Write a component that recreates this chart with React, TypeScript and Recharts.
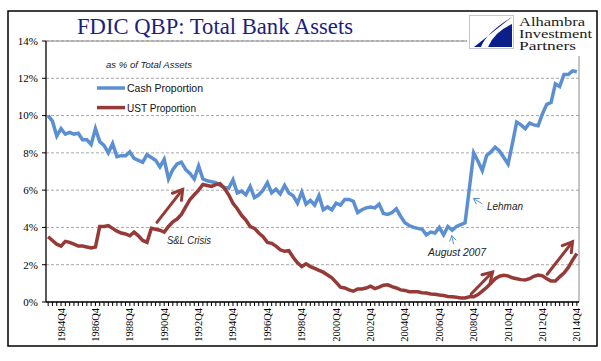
import React from 'react';
import {
  LineChart,
  Line,
  XAxis,
  YAxis,
  CartesianGrid,
  ReferenceLine,
  Legend,
} from 'recharts';

// quarters 1984Q1 .. 2014Q4
const YEARS = Array.from({ length: 31 }, (_, k) => 1984 + k);
const QUARTERS: string[] = YEARS.flatMap((y) => [1, 2, 3, 4].map((q) => `${y}Q${q}`));

const LABELLED = [
  '1984Q4', '1986Q4', '1988Q4', '1990Q4', '1992Q4', '1994Q4', '1996Q4', '1998Q4',
  '2000Q4', '2002Q4', '2004Q4', '2006Q4', '2008Q4', '2010Q4', '2012Q4', '2014Q4',
];

const Y_TICKS = [0, 2, 4, 6, 8, 10, 12, 14];

// Cash as % of total assets
const CASH = [
  10.0, 9.7, 8.9, 9.3, 9.0, 9.1, 9.0, 9.05, 8.7, 8.7, 8.45, 9.3, 8.6, 8.4, 8.0, 8.5,
  7.8, 7.85, 7.85, 8.05, 7.7, 7.6, 7.5, 7.9, 7.75, 7.6, 7.25, 7.65, 6.6, 7.1, 7.4, 7.5,
  7.1, 6.9, 6.6, 7.3, 6.6, 6.5, 6.45, 6.4, 6.25, 6.15, 6.1, 6.55, 5.85, 5.95, 5.75, 6.2,
  5.6, 5.75, 6.0, 6.4, 5.85, 6.05, 5.8, 6.25, 5.85, 5.7, 5.3, 5.9, 5.25, 5.45, 5.2, 5.7,
  4.95, 5.1, 4.95, 5.3, 5.2, 5.5, 5.5, 5.4, 4.8, 4.95, 5.05, 5.1, 5.05, 5.25, 4.75, 4.7,
  4.8, 5.0, 4.6, 4.25, 4.1, 4.0, 3.95, 3.9, 3.6, 3.75, 3.7, 4.0, 3.6, 4.05, 3.85, 4.05,
  4.15, 4.25, 6.1, 8.0, 7.55, 7.05, 7.85, 8.05, 8.3, 8.1, 7.75, 7.4, 8.5, 9.65, 9.5, 9.3,
  9.6, 9.5, 9.45, 10.1, 10.6, 10.7, 11.7, 11.55, 12.2, 12.2, 12.4, 12.35,
];

// UST as % of total assets
const UST = [
  3.5, 3.3, 3.1, 3.0, 3.25, 3.2, 3.1, 3.0, 3.0, 2.95, 2.9, 2.95, 4.05, 4.05, 4.1, 3.95,
  3.8, 3.7, 3.65, 3.55, 3.75, 3.55, 3.3, 3.2, 3.95, 3.9, 3.85, 3.75, 4.05, 4.3, 4.45, 4.7,
  5.1, 5.5, 5.75, 6.0, 6.3, 6.25, 6.2, 6.3, 6.35, 6.1, 5.75, 5.3, 5.0, 4.65, 4.4, 4.05,
  3.95, 3.7, 3.5, 3.2, 3.15, 3.0, 2.8, 2.72, 2.75, 2.4, 2.1, 1.9, 2.05, 1.9, 1.8, 1.7,
  1.6, 1.45, 1.3, 1.05, 0.8, 0.75, 0.65, 0.58, 0.7, 0.7, 0.75, 0.85, 0.72, 0.8, 0.9, 0.92,
  0.82, 0.75, 0.65, 0.62, 0.55, 0.55, 0.55, 0.5, 0.48, 0.43, 0.42, 0.38, 0.35, 0.3, 0.28, 0.25,
  0.22, 0.22, 0.28, 0.28, 0.4, 0.58, 0.78, 1.0, 1.25, 1.38, 1.43, 1.4, 1.3, 1.25, 1.2, 1.18,
  1.25, 1.38, 1.45, 1.4, 1.25, 1.12, 1.12, 1.35, 1.55, 1.85, 2.25, 2.6,
];

const BLUE = '#5b8fd2';
const RED = '#963a37';

// annotation arrows in data space: [quarter index, percent]
const RED_ARROWS = [
  { from: [25.3, 4.27], to: [31.3, 6.04] },
  { from: [98.4, 0.43], to: [103.4, 1.61] },
  { from: [116.1, 1.49], to: [122.0, 3.23] },
];
const NOTE_ARROWS = [
  { from: [100.9, 5.28], to: [98.95, 5.55] },
  { from: [94.3, 3.12], to: [93.9, 3.56] },
];

const data = QUARTERS.map((q, idx) => ({ idx, q, cash: CASH[idx], ust: UST[idx] }));
const ALL_IDX = QUARTERS.map((_, i) => i);

const arrowShape = (color: string, width: number, len: number) => (p: any) => {
  const { x1, y1, x2, y2 } = p;
  const a = Math.atan2(y2 - y1, x2 - x1);
  const w = 0.55;
  const hx1 = x2 - len * Math.cos(a - w);
  const hy1 = y2 - len * Math.sin(a - w);
  const hx2 = x2 - len * Math.cos(a + w);
  const hy2 = y2 - len * Math.sin(a + w);
  return (
    <g>
      <line x1={x1} y1={y1} x2={x2} y2={y2} stroke={color} strokeWidth={width} strokeLinecap="round" />
      <polyline
        points={`${hx1},${hy1} ${x2},${y2} ${hx2},${hy2}`}
        fill="none"
        stroke={color}
        strokeWidth={width}
        strokeLinecap="round"
        strokeLinejoin="miter"
      />
    </g>
  );
};

const XTick = ({ x, y, payload }: any) => {
  const label = QUARTERS[payload.value];
  if (!LABELLED.includes(label)) return null;
  return (
    <text
      x={x}
      y={y}
      transform={`rotate(-90, ${x}, ${y})`}
      textAnchor="end"
      dominantBaseline="central"
      fontFamily="'Liberation Serif', serif"
      fontSize={10.5}
      fill="#000"
    >
      {label}
    </text>
  );
};

const LegendContent = ({ payload }: any) => (
  <svg width={120} height={40}>
    {(payload || []).map((item: any, i: number) => (
      <g key={item.value} transform={`translate(0, ${10 + i * 19.6})`}>
        <line x1={0} y1={0} x2={28} y2={0} stroke={item.color} strokeWidth={3.5} />
        <text
          x={30}
          y={4}
          fontFamily="'Liberation Sans', Arial, sans-serif"
          fontSize={11.5}
          fill="#111"
          textLength={i === 0 ? 76 : 69}
          lengthAdjust="spacingAndGlyphs"
        >
          {item.value}
        </text>
      </g>
    ))}
  </svg>
);

export default function App() {
  return (
    <div style={{ position: 'absolute', left: 0, top: 0, width: 601, height: 361, background: '#fff' }}>
      <LineChart
        width={601}
        height={361}
        data={data}
        margin={{ top: 41, right: 22, bottom: 0, left: 0 }}
      >
        <CartesianGrid vertical={false} stroke="#a8a8a8" strokeDasharray="3 2" />
        <XAxis
          type="number"
          dataKey="idx"
          domain={[-0.5, 123.5]}
          ticks={ALL_IDX}
          interval={0}
          tick={<XTick />}
          tickSize={4}
          tickMargin={2}
          height={59}
          axisLine={{ stroke: '#000', strokeWidth: 1.3 }}
          tickLine={{ stroke: '#000' }}
        />
        <YAxis
          domain={[0, 14]}
          ticks={Y_TICKS}
          width={46}
          tickSize={4}
          tickMargin={4}
          tickFormatter={(v: number) => `${v}%`}
          tick={{ fontFamily: "'Liberation Serif', serif", fontSize: 11, fill: '#000' }}
          axisLine={{ stroke: '#000', strokeWidth: 1.3 }}
          tickLine={{ stroke: '#000' }}
        />
        <ReferenceLine y={14} stroke="#8a8a8a" strokeWidth={1} />
        <ReferenceLine x={123.5} stroke="#8a8a8a" strokeWidth={1} />
        <Legend
          layout="vertical"
          align="center"
          verticalAlign="middle"
          wrapperStyle={{ left: 97, top: 78, width: 120 }}
          content={<LegendContent />}
        />
        <Line
          type="linear"
          dataKey="cash"
          name="Cash Proportion"
          stroke={BLUE}
          strokeWidth={3.5}
          dot={false}
          isAnimationActive={false}
        />
        <Line
          type="linear"
          dataKey="ust"
          name="UST Proportion"
          stroke={RED}
          strokeWidth={3.5}
          dot={false}
          isAnimationActive={false}
        />
        {RED_ARROWS.map((a, i) => (
          <ReferenceLine
            key={`ra-${i}`}
            segment={[{ x: a.from[0], y: a.from[1] }, { x: a.to[0], y: a.to[1] }]}
            shape={arrowShape(RED, 3, 11)}
          />
        ))}
        {NOTE_ARROWS.map((a, i) => (
          <ReferenceLine
            key={`na-${i}`}
            segment={[{ x: a.from[0], y: a.from[1] }, { x: a.to[0], y: a.to[1] }]}
            shape={arrowShape(BLUE, 1, 6)}
          />
        ))}
      </LineChart>
      <svg
        width={601}
        height={361}
        style={{ position: 'absolute', left: 0, top: 0, pointerEvents: 'none' }}
      >
        <rect x={8} y={11} width={589} height={335} fill="none" stroke="#000" strokeWidth={1.5} />
        <text
          x={77}
          y={34}
          fontFamily="'Liberation Serif', serif"
          fontSize={22.5}
          fill="#1e1e7c"
          textLength={276}
          lengthAdjust="spacingAndGlyphs"
        >
          FDIC QBP: Total Bank Assets
        </text>
        <rect x={467} y={12} width={129} height={44} fill="#fff" />
        <rect x={469.5} y={15.5} width={44} height={33} fill="#fff" stroke="#c4c4c4" strokeWidth={1} />
        <path d="M512 17 L474 47 L481 47 Q486 33 512 17 Z" fill="#0b1f8a" />
        <path d="M488 47 Q494 32 512 24 L512 47 Z" fill="#0b1f8a" />
        <g fontFamily="'Liberation Serif', serif" fontSize={11.5} fill="#1a1a1a">
          <text x={519} y={25.5} textLength={66} lengthAdjust="spacingAndGlyphs">Alhambra</text>
          <text x={519} y={37.5} textLength={73} lengthAdjust="spacingAndGlyphs">Investment</text>
          <text x={519} y={49.5} textLength={57} lengthAdjust="spacingAndGlyphs">Partners</text>
        </g>
        <g fontFamily="'Liberation Sans', Arial, sans-serif" fontStyle="italic" fill="#222">
          <text x={106} y={67.5} fontSize={9.5} textLength={86} lengthAdjust="spacingAndGlyphs">
            as % of Total Assets
          </text>
          <text x={167} y={243.5} fontSize={10.5} textLength={44} lengthAdjust="spacingAndGlyphs">
            S&amp;L Crisis
          </text>
          <text x={487} y={209.5} fontSize={10.5} textLength={36} lengthAdjust="spacingAndGlyphs">
            Lehman
          </text>
          <text x={428} y={255.5} fontSize={10.5} textLength={58} lengthAdjust="spacingAndGlyphs">
            August 2007
          </text>
        </g>
      </svg>
    </div>
  );
}
